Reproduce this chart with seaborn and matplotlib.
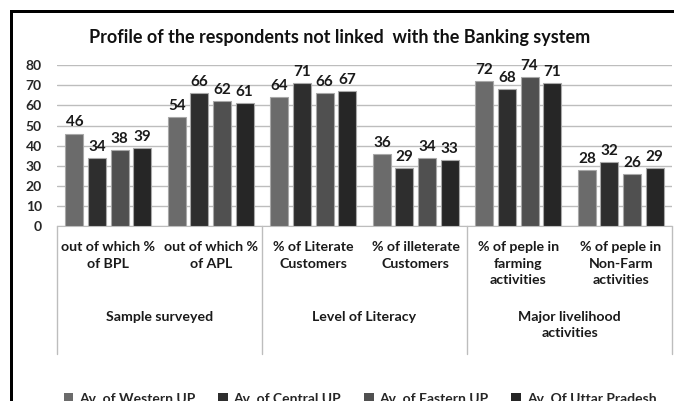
import matplotlib
matplotlib.use("Agg")
import matplotlib.pyplot as plt
import seaborn as sns
import pandas as pd
from matplotlib.patches import Patch, Rectangle
from matplotlib.transforms import blended_transform_factory

# ---- data ----
categories = [
    "out of which %\nof BPL",
    "out of which %\nof APL",
    "% of Literate\nCustomers",
    "% of illeterate\nCustomers",
    "% of peple in\nfarming\nactivities",
    "% of peple in\nNon-Farm\nactivities",
]
groups = ["Sample surveyed", "Level of Literacy", "Major livelihood\nactivities"]
series = ["Av. of Western UP", "Av. of Central UP", "Av. of Eastern UP", "Av. Of Uttar Pradesh"]
western = [46, 54, 64, 36, 72, 28]
central = [34, 66, 71, 29, 68, 32]
eastern = [38, 62, 66, 34, 74, 26]
uttar = [39, 61, 67, 33, 71, 29]
yticks = [0, 10, 20, 30, 40, 50, 60, 70, 80]

colors = ["#6b6b6b", "#2e2e2e", "#505050", "#262626"]

rows = []
for name, vals in zip(series, [western, central, eastern, uttar]):
    for cat, v in zip(categories, vals):
        rows.append({"category": cat, "series": name, "value": v})
df = pd.DataFrame(rows)

sns.set_style("white")
plt.rcParams["font.family"] = ["Lato", "DejaVu Sans"]
plt.rcParams["font.weight"] = "bold"

W, H = 674, 401
fig = plt.figure(figsize=(W / 100, H / 100), dpi=100)

ax = fig.add_axes([57 / W, 1 - 226.5 / H, 615 / W, 161.5 / H])

sns.barplot(data=df, x="category", y="value", hue="series", order=categories,
            hue_order=series, palette=colors, ax=ax, width=0.88,
            edgecolor="#a8a8a8", linewidth=0.8, legend=False, zorder=3)

# shrink bars a little to leave small gaps between them
for bar in ax.patches:
    w = bar.get_width()
    bar.set_x(bar.get_x() + w * 0.1)
    bar.set_width(w * 0.8)

# value labels
for cont, vals in zip(ax.containers, [western, central, eastern, uttar]):
    ax.bar_label(cont, labels=[str(v) for v in vals], padding=3,
                 fontsize=11, fontweight="bold", color="#1a1a1a")

ax.set_ylim(0, 80)
ax.set_xlim(-0.5, len(categories) - 0.5)
ax.set_yticks(yticks)
ax.set_yticklabels([str(t) for t in yticks], fontsize=10, fontweight="bold")
ax.tick_params(axis="y", length=0, pad=11)
ax.yaxis.grid(True, color="#bdbdbd", linewidth=1, zorder=0)
ax.set_axisbelow(True)
ax.patch.set_visible(False)
for s in ["top", "right", "left"]:
    ax.spines[s].set_visible(False)
ax.spines["bottom"].set_color("#bdbdbd")
ax.set_xlabel("")
ax.set_ylabel("")
ax.set_xticks(range(len(categories)))
ax.set_xticklabels([])
ax.tick_params(axis="x", length=0)

# multi-level category axis
trans = blended_transform_factory(ax.transData, ax.transAxes)
px = 1 / 161.5
for i, cat in enumerate(categories):
    ax.text(i, -(241 - 226.5) * px, cat, transform=trans, ha="center", va="top",
            fontsize=10.2, fontweight="bold", linespacing=1.45, color="#1a1a1a")
for g, label in enumerate(groups):
    ax.text(2 * g + 0.5, -(311 - 226.5) * px, label, transform=trans, ha="center",
            va="top", fontsize=10.2, fontweight="bold", linespacing=1.45, color="#1a1a1a")
for xb in [-0.5, 1.5, 3.5, 5.5]:
    ax.plot([xb, xb], [0, -(354 - 226.5) * px], transform=trans, color="#bdbdbd",
            linewidth=1, clip_on=False)

# title
fig.text(340 / W, 1 - 38 / H, "Profile of the respondents not linked  with the Banking system",
         ha="center", va="center", fontsize=13, fontweight="bold", color="#111111")

# legend
handles = [Patch(facecolor=c, edgecolor="none") for c in colors]
fig.legend(handles, series, loc="center", bbox_to_anchor=(360 / W, 1 - 399 / H),
           ncol=4, frameon=False, handlelength=0.7, handleheight=0.7,
           handletextpad=0.4, columnspacing=1.65, prop={"weight": "bold", "size": 10})

# chart frame: solid strips along the top and left edges (pixel units)
def px_rect(x0, y0, w, h):
    return Rectangle((x0 / W, 1 - (y0 + h) / H), w / W, h / H,
                     transform=fig.transFigure, facecolor="black",
                     edgecolor="none", zorder=20)

fig.add_artist(px_rect(10, 10, W - 10, 3))
fig.add_artist(px_rect(10, 10, 3, H - 10))

fig.savefig("out.png", dpi=100)
